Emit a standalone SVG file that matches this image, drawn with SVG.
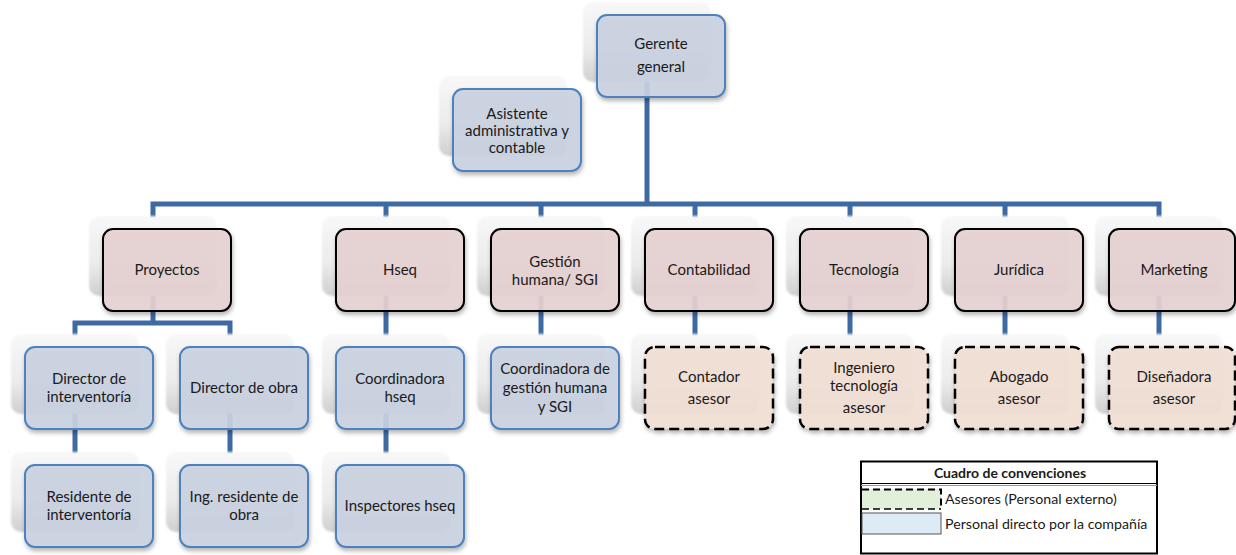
<svg xmlns="http://www.w3.org/2000/svg" width="1236" height="555" viewBox="0 0 1236 555">
<defs>
<linearGradient id="shg" x1="0" y1="0" x2="0" y2="1">
<stop offset="0" stop-color="#f8f8f8"/>
<stop offset="0.6" stop-color="#ebebeb"/>
<stop offset="1" stop-color="#cfcfcf"/>
</linearGradient>
<filter id="blur" x="-10%" y="-10%" width="120%" height="120%"><feGaussianBlur stdDeviation="1.2"/></filter>
<filter id="ds" x="-10%" y="-10%" width="125%" height="130%"><feDropShadow dx="1" dy="3" stdDeviation="2" flood-color="#000" flood-opacity="0.3"/></filter>
<style>
.sh{fill:url(#shg);filter:url(#blur)}
.bl{fill:#cbd3e2;fill-opacity:0.9;stroke:#4f81bd;stroke-width:2;filter:url(#ds)}
.pk{fill:#e8d3d3;fill-opacity:0.9;stroke:#000;stroke-width:2;filter:url(#ds)}
.dh{fill:#f3e1d5;fill-opacity:0.9;stroke:#000;stroke-width:2.5;stroke-dasharray:10 5;filter:url(#ds)}
.t{font-family:Lato,'Liberation Sans',sans-serif;font-size:15px;fill:#1a1a1a;text-anchor:middle}
.c{fill:none;stroke:#3e6aa3;stroke-width:5}
.lg{font-family:Lato,'Liberation Sans',sans-serif;font-size:14.2px;fill:#1a1a1a}
</style>
</defs>
<rect width="1236" height="555" fill="#fff"/>
<g id="connectors">
<path class="c" d="M647 80 V204"/>
<path class="c" d="M153 220 V204 H1159 V220"/>
<path class="c" d="M386 204 V220 M541 204 V220 M695 204 V220 M850 204 V220 M1005 204 V220"/>
<path class="c" d="M153 294 V323"/>
<path class="c" d="M75 340 V323 H230 V340"/>
<path class="c" d="M386 294 V340 M541 294 V340 M695 294 V340 M850 294 V340 M1005 294 V340 M1159 294 V340"/>
<path class="c" d="M75 412 V458 M230 412 V458 M386 412 V458"/>
</g>
<g id="gerente">
<rect class="sh" x="583" y="2" width="128" height="80" rx="10"/>
<rect class="bl" x="597" y="15" width="128" height="82" rx="10"/>
<text class="t" x="661" y="49">Gerente</text>
<text class="t" x="661" y="72">general</text>
</g>
<g id="asistente">
<rect class="sh" x="439" y="76" width="128" height="80" rx="10"/>
<rect class="bl" x="453" y="89" width="128" height="82" rx="10"/>
<text class="t" x="517" y="119">Asistente</text>
<text class="t" x="517" y="136">administrativa y</text>
<text class="t" x="517" y="153">contable</text>
</g>
<g id="proyectos">
<rect class="sh" x="89" y="216" width="128" height="80" rx="10"/>
<rect class="pk" x="103" y="229" width="128" height="82" rx="10"/>
<text class="t" x="167" y="275">Proyectos</text>
</g>
<g id="hseq">
<rect class="sh" x="322" y="216" width="128" height="80" rx="10"/>
<rect class="pk" x="336" y="229" width="128" height="82" rx="10"/>
<text class="t" x="400" y="275">Hseq</text>
</g>
<g id="gestion">
<rect class="sh" x="477" y="216" width="128" height="80" rx="10"/>
<rect class="pk" x="491" y="229" width="128" height="82" rx="10"/>
<text class="t" x="555" y="267">Gestión</text>
<text class="t" x="555" y="285">humana/ SGI</text>
</g>
<g id="contabilidad">
<rect class="sh" x="631" y="216" width="128" height="80" rx="10"/>
<rect class="pk" x="645" y="229" width="128" height="82" rx="10"/>
<text class="t" x="709" y="275">Contabilidad</text>
</g>
<g id="tecnologia">
<rect class="sh" x="786" y="216" width="128" height="80" rx="10"/>
<rect class="pk" x="800" y="229" width="128" height="82" rx="10"/>
<text class="t" x="864" y="275">Tecnología</text>
</g>
<g id="juridica">
<rect class="sh" x="941" y="216" width="128" height="80" rx="10"/>
<rect class="pk" x="955" y="229" width="128" height="82" rx="10"/>
<text class="t" x="1019" y="275">Jurídica</text>
</g>
<g id="marketing">
<rect class="sh" x="1095" y="216" width="128" height="80" rx="10"/>
<rect class="pk" x="1109" y="229" width="126" height="82" rx="10"/>
<text class="t" x="1174" y="275">Marketing</text>
</g>
<g id="dir-interventoria">
<rect class="sh" x="11" y="334" width="128" height="80" rx="10"/>
<rect class="bl" x="25" y="347" width="128" height="82" rx="10"/>
<text class="t" x="89" y="384">Director de</text>
<text class="t" x="89" y="402">interventoría</text>
</g>
<g id="dir-obra">
<rect class="sh" x="166" y="334" width="128" height="80" rx="10"/>
<rect class="bl" x="180" y="347" width="128" height="82" rx="10"/>
<text class="t" x="244" y="393">Director de obra</text>
</g>
<g id="coord-hseq">
<rect class="sh" x="322" y="334" width="128" height="80" rx="10"/>
<rect class="bl" x="336" y="347" width="128" height="82" rx="10"/>
<text class="t" x="400" y="384">Coordinadora</text>
<text class="t" x="400" y="402">hseq</text>
</g>
<g id="coord-gestion">
<rect class="sh" x="477" y="334" width="128" height="80" rx="10"/>
<rect class="bl" x="491" y="347" width="128" height="82" rx="10"/>
<text class="t" x="555" y="374">Coordinadora de</text>
<text class="t" x="555" y="393">gestión humana</text>
<text class="t" x="555" y="412">y SGI</text>
</g>
<g id="contador">
<rect class="sh" x="631" y="334" width="128" height="80" rx="10"/>
<rect class="dh" x="645" y="347" width="128" height="82" rx="10"/>
<text class="t" x="709" y="382">Contador</text>
<text class="t" x="709" y="404">asesor</text>
</g>
<g id="ingeniero">
<rect class="sh" x="786" y="334" width="128" height="80" rx="10"/>
<rect class="dh" x="800" y="347" width="128" height="82" rx="10"/>
<text class="t" x="864" y="373">Ingeniero</text>
<text class="t" x="864" y="391">tecnología</text>
<text class="t" x="864" y="413">asesor</text>
</g>
<g id="abogado">
<rect class="sh" x="941" y="334" width="128" height="80" rx="10"/>
<rect class="dh" x="955" y="347" width="128" height="82" rx="10"/>
<text class="t" x="1019" y="382">Abogado</text>
<text class="t" x="1019" y="404">asesor</text>
</g>
<g id="disenadora">
<rect class="sh" x="1095" y="334" width="128" height="80" rx="10"/>
<rect class="dh" x="1109" y="347" width="126" height="82" rx="10"/>
<text class="t" x="1174" y="382">Diseñadora</text>
<text class="t" x="1174" y="404">asesor</text>
</g>
<g id="residente-interventoria">
<rect class="sh" x="11" y="452" width="128" height="80" rx="10"/>
<rect class="bl" x="25" y="465" width="128" height="82" rx="10"/>
<text class="t" x="89" y="502">Residente de</text>
<text class="t" x="89" y="520">interventoría</text>
</g>
<g id="ing-residente">
<rect class="sh" x="166" y="452" width="128" height="80" rx="10"/>
<rect class="bl" x="180" y="465" width="128" height="82" rx="10"/>
<text class="t" x="244" y="502">Ing. residente de</text>
<text class="t" x="244" y="520">obra</text>
</g>
<g id="inspectores">
<rect class="sh" x="322" y="452" width="128" height="80" rx="10"/>
<rect class="bl" x="336" y="465" width="128" height="82" rx="10"/>
<text class="t" x="400" y="511">Inspectores hseq</text>
</g>
<g id="leyenda">
<rect x="861" y="461.5" width="296" height="92" fill="#fff" stroke="#000" stroke-width="2"/>
<line x1="861" y1="483.5" x2="1157" y2="483.5" stroke="#000" stroke-width="1"/>
<line x1="861" y1="485.5" x2="1157" y2="485.5" stroke="#999" stroke-width="1"/>
<text x="1010" y="478" font-family="Lato,'Liberation Sans',sans-serif" font-size="14px" font-weight="bold" fill="#1a1a1a" text-anchor="middle">Cuadro de convenciones</text>
<rect x="862" y="489" width="79" height="20" fill="#e2efda"/>
<path d="M862 489.5 H941 V509" fill="none" stroke="#000" stroke-width="2" stroke-dasharray="7 4"/>
<path d="M862 509 H941" fill="none" stroke="#000" stroke-width="1.5" stroke-dasharray="7 4"/>
<rect x="862" y="513" width="79" height="21" fill="#ddebf7" stroke="#555" stroke-width="1"/>
<text class="lg" x="945" y="504">Asesores (Personal externo)</text>
<text class="lg" x="945" y="529">Personal directo por la compañía</text>
</g>
</svg>
